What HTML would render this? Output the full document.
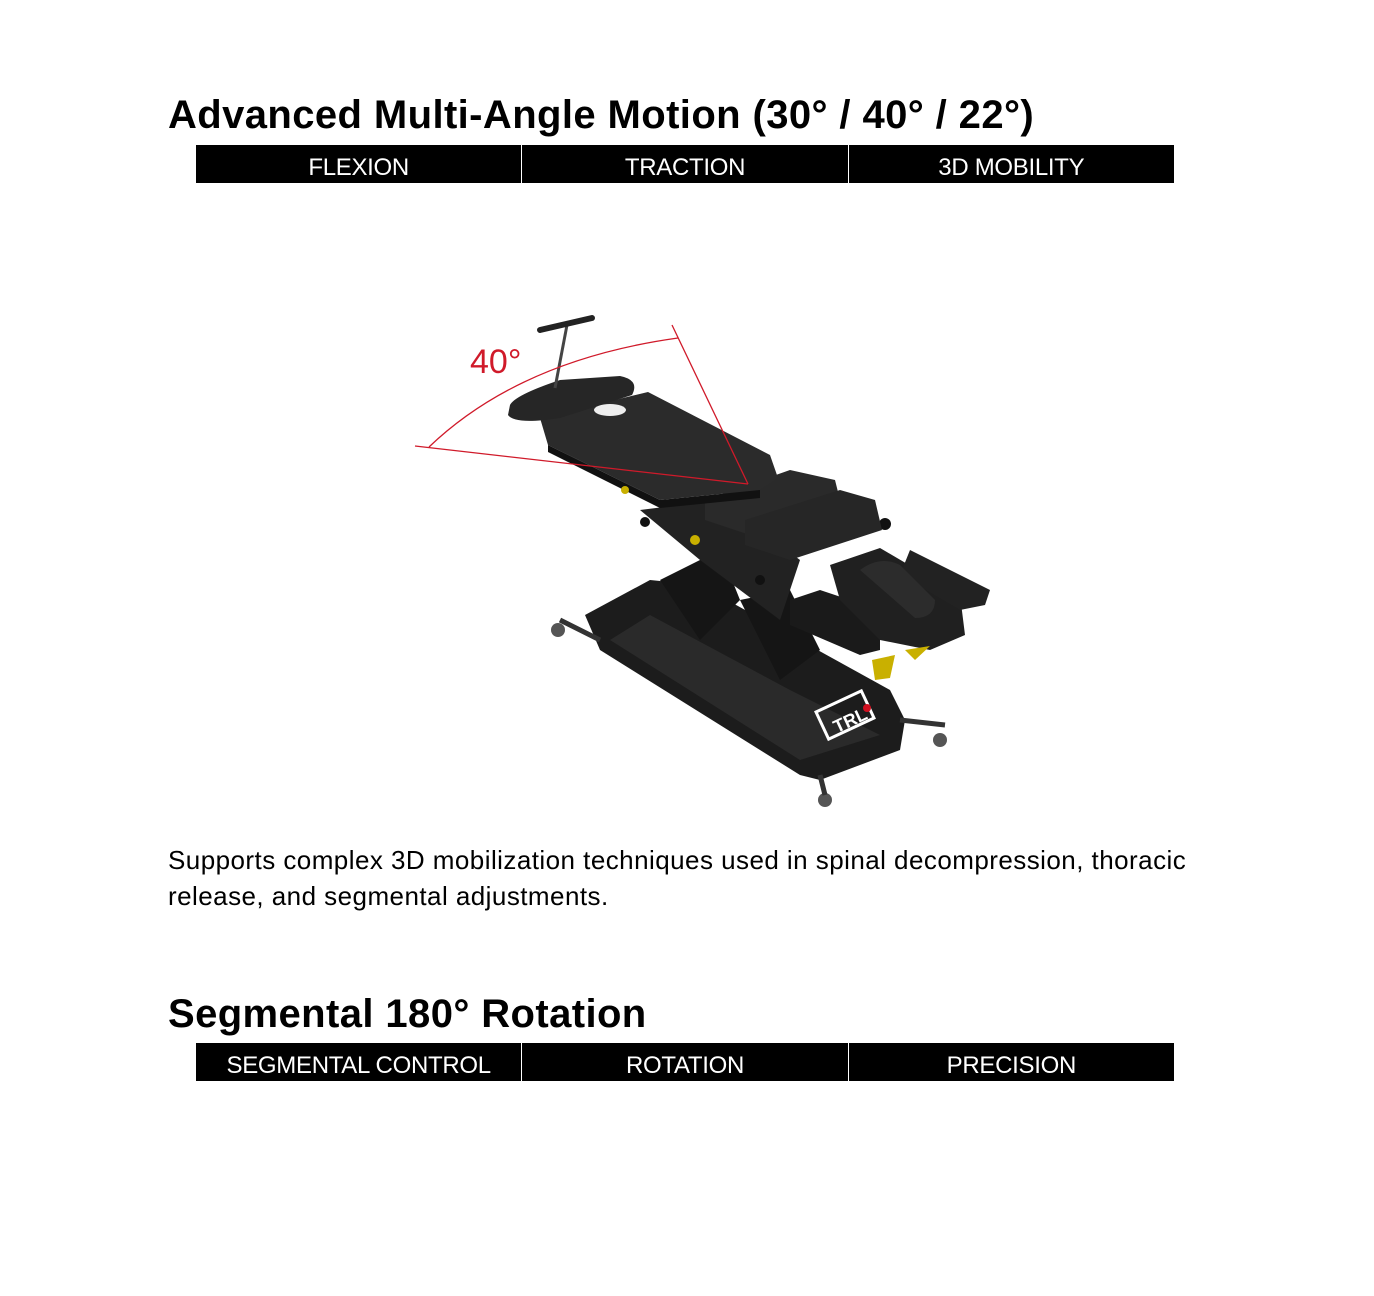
<!DOCTYPE html>
<html><head><meta charset="utf-8"><style>
body{margin:0;background:#fff;width:1374px;height:1296px;position:relative;font-family:"Liberation Sans",Arial,sans-serif;overflow:hidden}
h2{position:absolute;left:168px;margin:0;font-size:40px;font-weight:bold;color:#000;letter-spacing:0.4px;white-space:nowrap}
.bar{position:absolute;left:196px;width:978px;height:38px;display:flex;background:#000}
.bar div{flex:1;color:#fff;font-size:24px;text-align:center;line-height:45px;border-left:1px solid #fff;letter-spacing:-0.3px}
.bar div:first-child{border-left:none}
p{position:absolute;left:168px;top:842px;margin:0;font-size:26px;letter-spacing:0.45px;line-height:36px;width:1060px;color:#000}
</style></head><body>
<h2 style="top:93px">Advanced Multi-Angle Motion (30° / 40° / 22°)</h2>
<div class="bar" style="top:145px"><div>FLEXION</div><div>TRACTION</div><div>3D MOBILITY</div></div>
<svg style="position:absolute;left:0;top:0" width="1374" height="1296">
<polygon points="585,615 650,580 700,585 890,690 905,720 900,750 820,780 800,775 600,650" fill="#1c1c1c"/>
<polygon points="610,640 800,760 880,735 790,690 650,615" fill="#2a2a2a"/>
<polygon points="660,580 720,550 740,600 700,640" fill="#151515"/>
<polygon points="740,600 790,590 820,650 780,680" fill="#151515"/>
<rect x="820" y="700" width="50" height="30" fill="none" stroke="#fff" stroke-width="3" transform="rotate(-25 845 715)"/>
<text x="830" y="728" fill="#fff" font-size="18" font-weight="bold" transform="rotate(-25 845 715)">TRL</text>
<circle cx="867" cy="708" r="4" fill="#d01020"/>
<circle cx="558" cy="630" r="7" fill="#555"/><circle cx="940" cy="740" r="7" fill="#555"/><circle cx="825" cy="800" r="7" fill="#555"/>
<line x1="560" y1="620" x2="600" y2="640" stroke="#333" stroke-width="5"/>
<line x1="900" y1="720" x2="945" y2="725" stroke="#333" stroke-width="5"/>
<line x1="820" y1="775" x2="825" y2="795" stroke="#333" stroke-width="5"/>
<polygon points="640,510 720,500 800,560 780,620 700,560" fill="#222"/>
<circle cx="645" cy="522" r="5" fill="#111"/><circle cx="695" cy="540" r="5" fill="#c9b000"/><circle cx="760" cy="580" r="5" fill="#111"/>
<circle cx="885" cy="524" r="6" fill="#111"/>
<polygon points="790,600 820,590 880,610 880,650 860,655 790,625" fill="#1a1a1a"/>
<polygon points="830,565 880,548 960,595 965,635 930,650 880,640 840,600" fill="#202020"/>
<polygon points="910,550 990,590 985,605 960,610 900,575" fill="#222"/>
<path d="M860,570 Q880,555 900,565 L935,600 Q935,618 915,618 Z" fill="#2c2c2c"/>
<polygon points="872,660 895,655 890,678 875,680" fill="#c9b000"/>
<polygon points="905,650 930,646 915,660" fill="#c9b000"/>
<polygon points="705,500 790,470 835,480 840,500 750,535 705,520" fill="#2a2a2a"/>
<polygon points="745,520 840,490 875,500 882,530 790,560 745,545" fill="#262626"/>
<polygon points="540,418 648,392 770,455 778,478 760,490 660,500 548,445" fill="#2b2b2b"/>
<polygon points="548,445 660,500 760,490 760,498 660,508 548,452" fill="#111"/>
<ellipse cx="610" cy="410" rx="16" ry="6" fill="#eee"/>
<path d="M510,405 Q515,395 560,380 L620,376 Q640,380 632,395 L560,418 Q515,425 508,415 Z" fill="#262626"/>
<line x1="555" y1="388" x2="567" y2="325" stroke="#444" stroke-width="3"/>
<line x1="540" y1="330" x2="592" y2="318" stroke="#222" stroke-width="6" stroke-linecap="round"/>
<circle cx="625" cy="490" r="4" fill="#c9b000"/>
<line x1="415" y1="446" x2="748" y2="484" stroke="#d01a2a" stroke-width="1.3"/>
<line x1="672" y1="325" x2="748" y2="484" stroke="#d01a2a" stroke-width="1.3"/>
<path d="M429,447 Q520,360 678,338" fill="none" stroke="#d01a2a" stroke-width="1.3"/>
<text x="470" y="373" fill="#d01a2a" font-size="34" font-family="Liberation Sans, sans-serif">40°</text>
</svg>
<p>Supports complex 3D mobilization techniques used in spinal decompression, thoracic release, and segmental adjustments.</p>
<h2 style="top:992px">Segmental 180° Rotation</h2>
<div class="bar" style="top:1043px"><div>SEGMENTAL CONTROL</div><div>ROTATION</div><div>PRECISION</div></div>
</body></html>
